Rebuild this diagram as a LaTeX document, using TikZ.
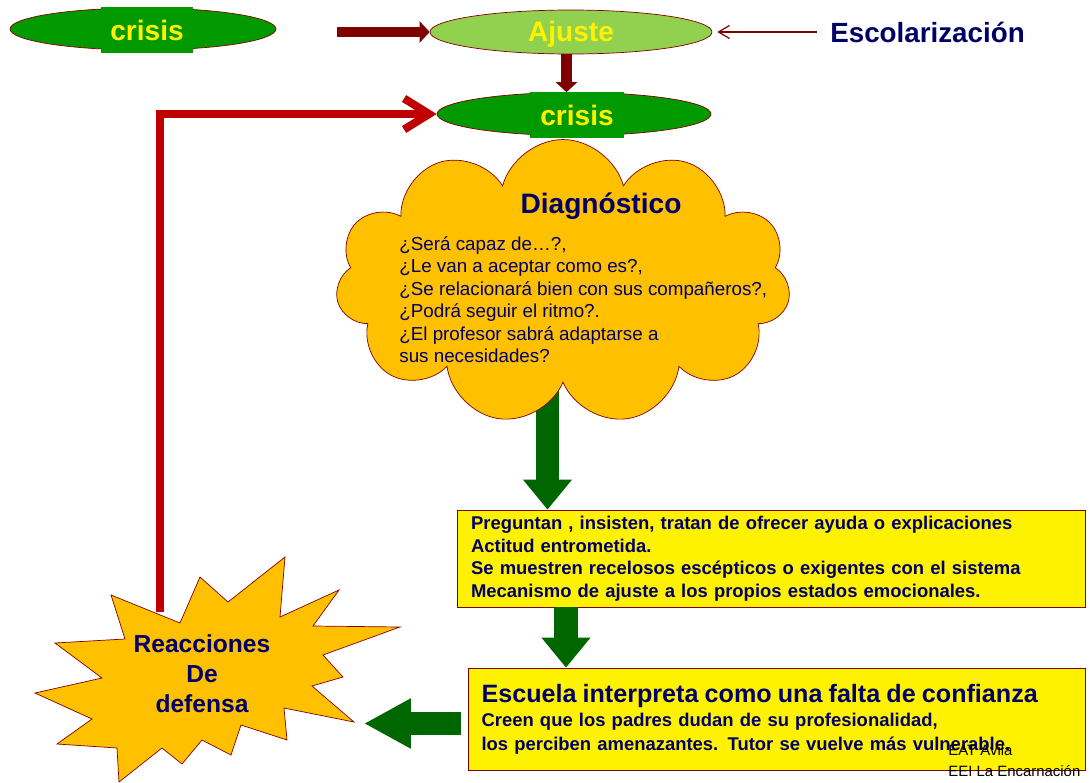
\documentclass[tikz,border=0pt]{standalone}
\usepackage{fontspec}
\setmainfont{Liberation Sans}
\usetikzlibrary{positioning,shapes.geometric,shapes.symbols,arrows.meta}
\definecolor{crisisgreen}{RGB}{0,153,0}
\definecolor{ajustegreen}{RGB}{146,208,80}
\definecolor{navytext}{RGB}{0,0,102}
\definecolor{darkred}{RGB}{128,0,0}
\definecolor{loopred}{RGB}{192,0,0}
\definecolor{cloudorange}{RGB}{255,192,0}
\definecolor{arrowgreen}{RGB}{0,102,0}
\pgfdeclarelayer{background}
\pgfsetlayers{background,main}

\begin{document}
\begin{tikzpicture}[x=0.02cm,y=-0.02cm,
    oval/.style={ellipse,draw=darkred,thin,inner sep=0pt},
    crisislabel/.style={fill=crisisgreen,text=yellow,inner sep=0pt,
      font=\fontsize{16}{19}\selectfont\bfseries,minimum height=0.92cm},
    darkarrow/.style={draw=darkred,line width=0.21cm,-{Triangle[length=0.2cm,width=0.42cm]}},
    greenarrow/.style={draw=arrowgreen,line width=0.47cm,-{Triangle[length=0.6cm,width=0.94cm]}},
    notebox/.style={rectangle,draw=darkred,thin,fill=yellow,text=navytext,align=left,
      inner xsep=0.27cm,inner ysep=0pt,font=\fontsize{10.5}{12.8}\selectfont\bfseries}]
  \useasboundingbox (0,0) rectangle (1090,782);

  \node[oval,fill=crisisgreen,minimum width=5.32cm,minimum height=0.84cm] (crisisA) at (143,29) {};
  \node[crisislabel,minimum width=1.84cm] (crisisAtext) at (147,30) {crisis};
  \node[oval,fill=ajustegreen,minimum width=5.64cm,minimum height=0.88cm] (ajuste) at (571,32) {};
  \node[text=yellow,font=\fontsize{16}{19}\selectfont\bfseries] (ajustetext) at (571,34) {Ajuste};
  \node[oval,fill=crisisgreen,minimum width=5.48cm,minimum height=0.86cm] (crisisB) at (574,114) {};
  \node[crisislabel,minimum width=1.88cm] (crisisBtext) at (577,115) {crisis};
  \node[anchor=west,inner xsep=0.26cm,text=navytext,font=\fontsize{15.8}{18}\selectfont\bfseries]
    (escol) at (817,32) {Escolarización};

  \draw[darkarrow,shorten <=1.22cm] (ajuste.west -| crisisA.east) -- (ajuste.west);
  \draw[darkarrow] (ajuste.south -| 566.5,0) -- (crisisB.north -| 566.5,0);
  \draw[darkred,line width=0.7pt,shorten >=0.1cm,-{Straight Barb[length=0.22cm,width=0.26cm]}]
    (escol.west) -- (ajuste.east);

  \coordinate (loopstart) at (160,612);
  \draw[loopred,line width=0.16cm,-{Straight Barb[length=0.5cm,width=0.62cm]}]
    (loopstart) |- (crisisB.west);

  \node[cloud,cloud puffs=11,cloud ignores aspect,draw=darkred,thin,fill=cloudorange,
    minimum width=9.1cm,minimum height=5.7cm] (diag) at (563,282) {};
  \node[notebox,minimum width=12.56cm,minimum height=1.94cm,text width=12cm] (actitud) at (771,558.5)
    {Preguntan , insisten, tratan de ofrecer ayuda o explicaciones\\
     Actitud entrometida.\\
     Se muestren recelosos escépticos o exigentes con el sistema\\
     Mecanismo de ajuste a los propios estados emocionales.};
  \node[notebox,minimum width=12.34cm,minimum height=2.04cm,text width=11.8cm] (escuela) at (776.5,719)
    {{\fontsize{14.3}{17}\selectfont Escuela interpreta como una falta de confianza}\\[1pt]
     Creen que los padres dudan de su profesionalidad,\\[0.6pt]
     los perciben amenazantes. Tutor se vuelve más vulnerable.};

  \begin{pgfonlayer}{background}
  \draw[greenarrow] (diag.center -| 547.5,0) -- (actitud.north -| 547.5,0);
  \end{pgfonlayer}
  \draw[greenarrow] (actitud.south -| 566,0) -- (escuela.north -| 566,0);
  \coordinate (stareast) at (364,723.5);
  \draw[greenarrow,-{Triangle[length=0.94cm,width=0.94cm]},line width=0.46cm,shorten <=0.14cm]
    (escuela.west |- stareast) -- (stareast);

  \node[text=navytext,font=\fontsize{16}{19}\selectfont\bfseries] (diagtitle) at (601,206) {Diagnóstico};
  \node[anchor=north west,inner sep=0pt,align=left,text=navytext,font=\fontsize{10.7}{12.8}\selectfont]
    (preguntas) at (399,236)
    {¿Será capaz de…?,\\
     ¿Le van a aceptar como es?,\\
     ¿Se relacionará bien con sus compañeros?,\\
     ¿Podrá seguir el ritmo?.\\
     ¿El profesor sabrá adaptarse a\\
     sus necesidades?};

  \draw[darkred,thin,fill=cloudorange] (285,557) -- (280,617) -- (339,590) -- (313,626)
    -- (400,627) -- (323,655) -- (343,677) -- (312,686) -- (354,722) -- (284,708)
    -- (287,740) -- (241,725) -- (231,755) -- (202,740) -- (182,764) -- (162,748)
    -- (119,782) -- (117,748) -- (57,744) -- (92,719) -- (35,693) -- (102,678)
    -- (55,643) -- (125,639) -- (111,595) -- (180,623) -- (200,577) -- (228,602) -- cycle;
  \node[align=center,text=navytext,font=\fontsize{14}{17}\selectfont\bfseries] (reacciones) at (202,674)
    {Reacciones\\De\\defensa};

  \node[anchor=west,inner sep=0pt,align=left,font=\fontsize{8.5}{11.8}\selectfont] (firma) at (948,761)
    {EAT Avila\\EEI La Encarnación};
\end{tikzpicture}
\end{document}
